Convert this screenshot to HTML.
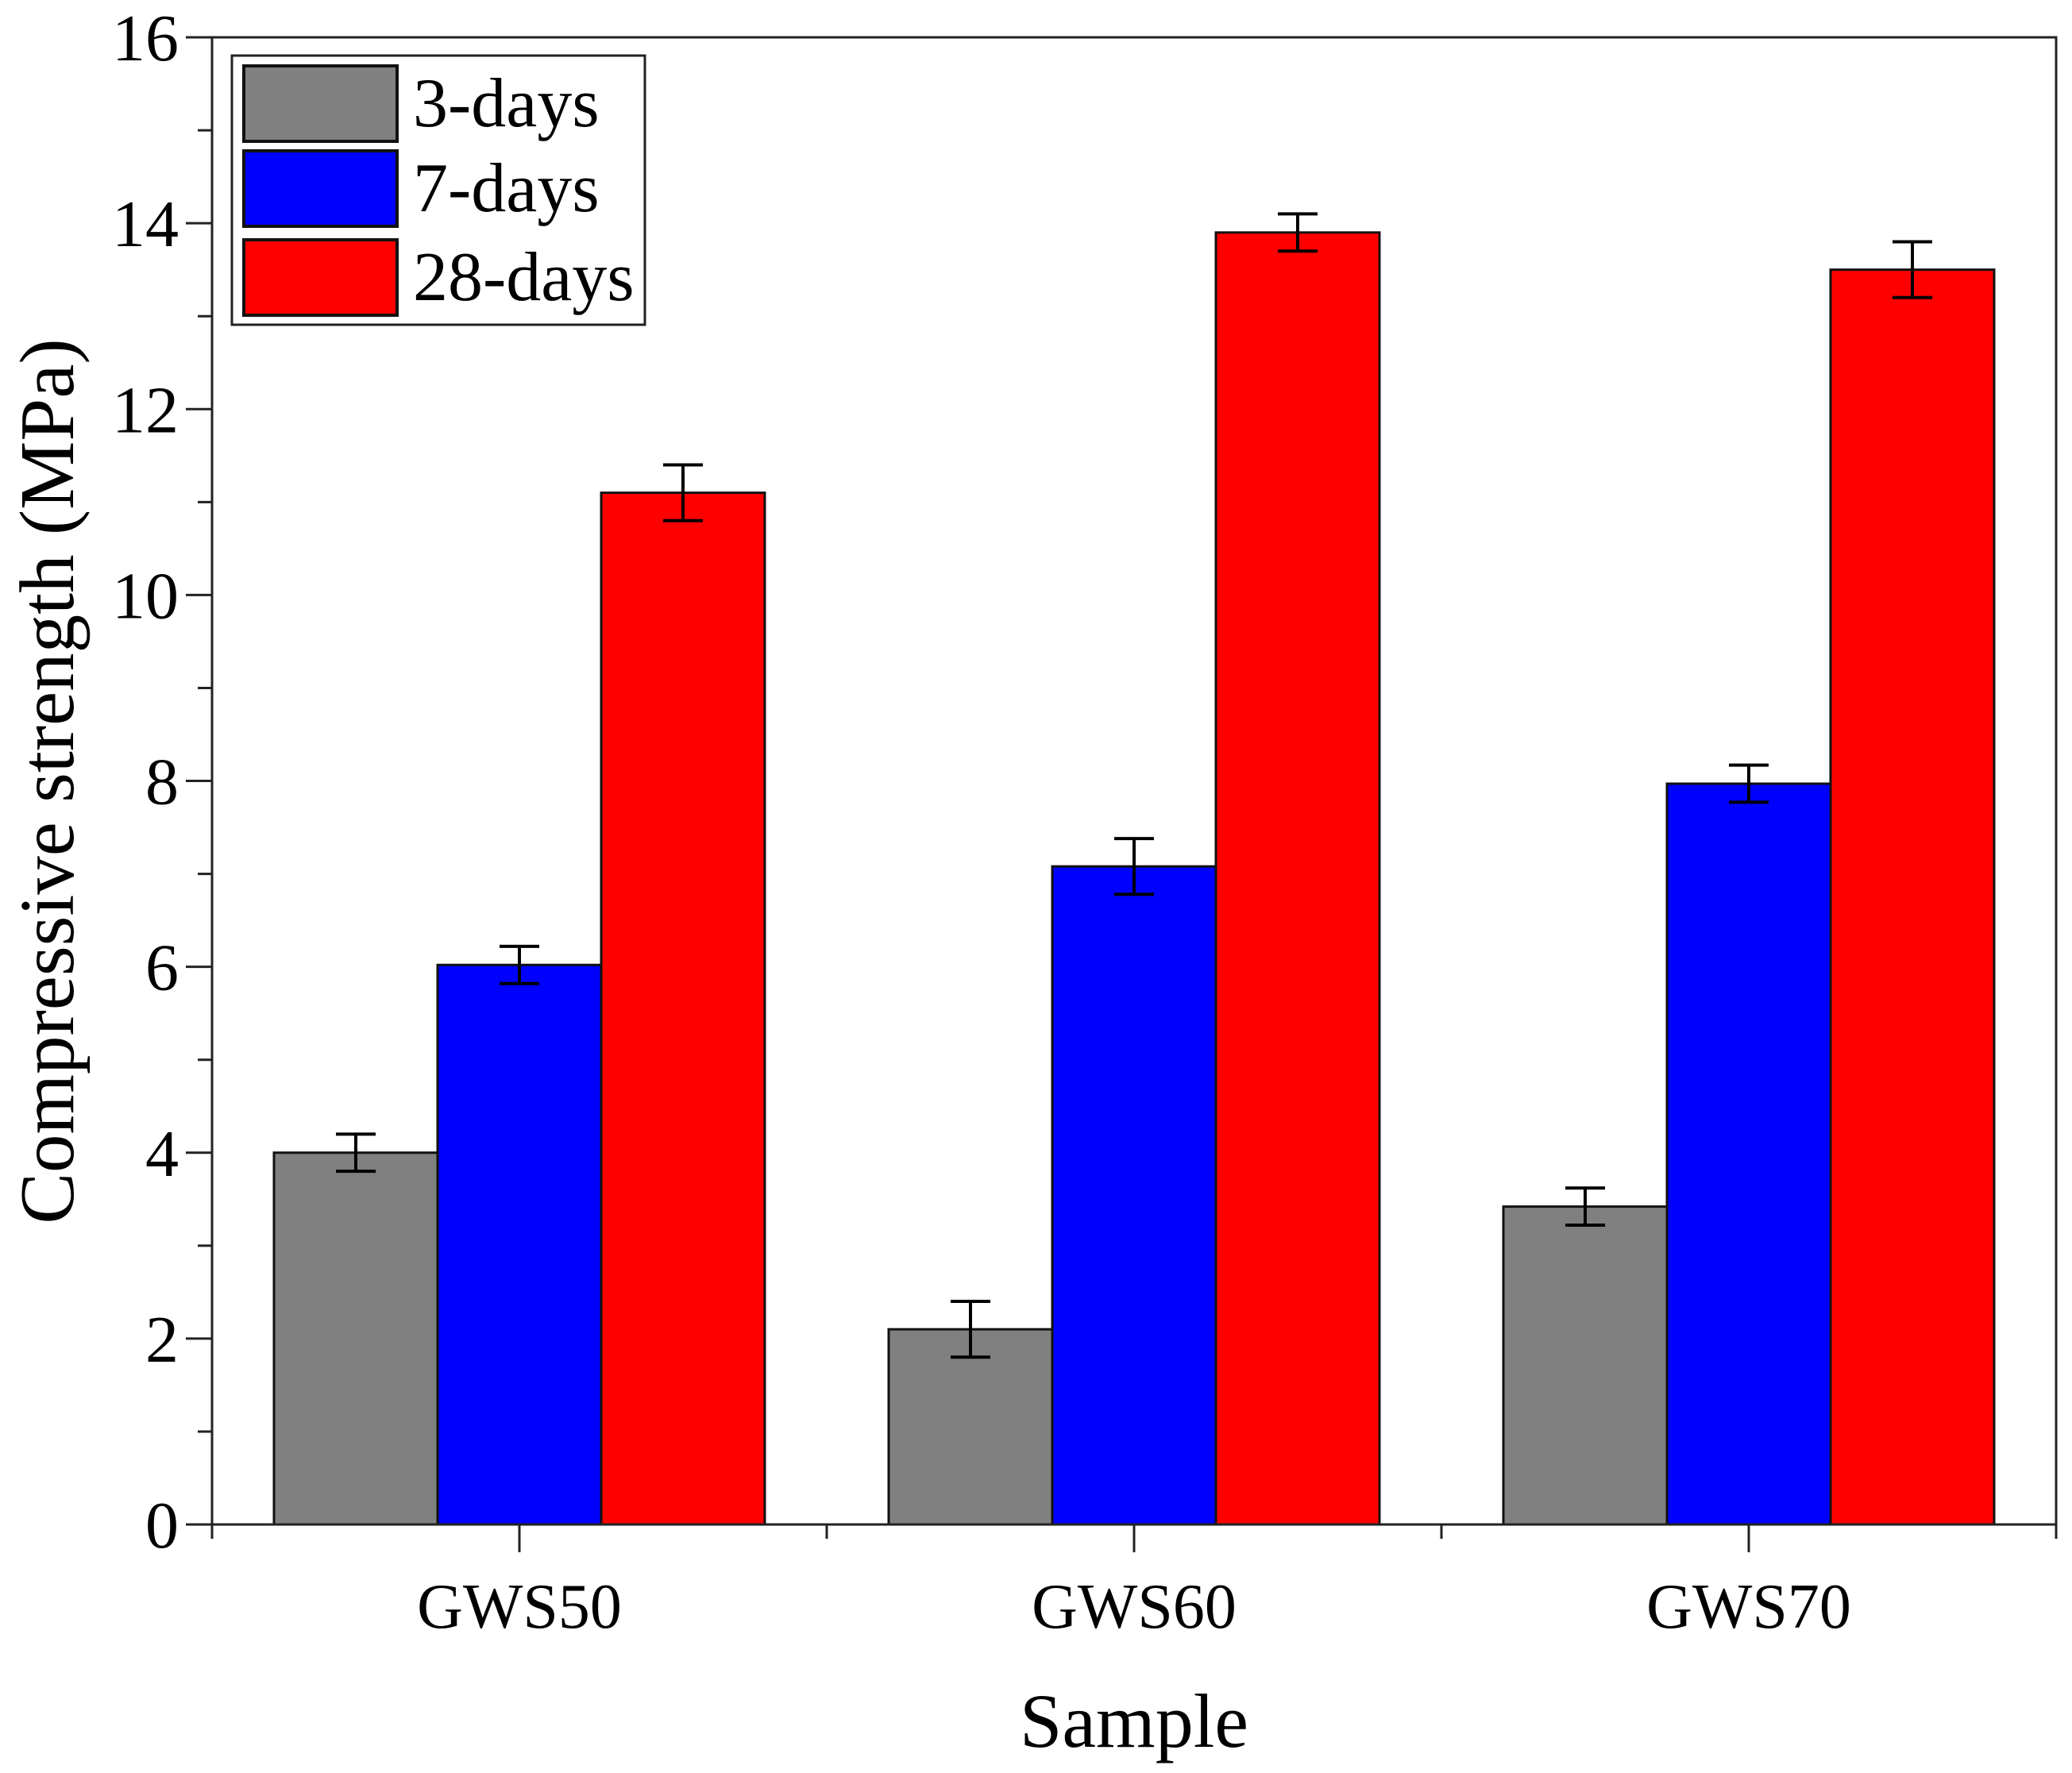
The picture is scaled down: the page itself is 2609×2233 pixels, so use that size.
<!DOCTYPE html>
<html><head><meta charset="utf-8"><style>
html,body{margin:0;padding:0;background:#fff;}
svg{display:block;font-family:"Liberation Serif",serif;}
</style></head><body>
<svg id="chart" width="2609" height="2233" viewBox="0 0 2609 2233" xmlns="http://www.w3.org/2000/svg">
<g id="plot"></g>
</svg>
<script>
const categories = ["GWS50", "GWS60", "GWS70"];
const seriesNames = ["3-days", "7-days", "28-days"];
const seriesColors = ["#808080", "#0000ff", "#ff0000"];
const values3d = [4.0, 2.1, 3.42];
const values7d = [6.02, 7.08, 7.97];
const values28d = [11.1, 13.9, 13.5];
const errors3d = [0.2, 0.3, 0.2];
const errors7d = [0.2, 0.3, 0.2];
const errors28d = [0.3, 0.2, 0.3];
const yTicks = [0, 2, 4, 6, 8, 10, 12, 14, 16];

const NS = "http://www.w3.org/2000/svg";
const g = document.getElementById("plot");
const L = 267, R = 2589, T = 47, B = 1920;
const yMin = 0, yMax = 16;
function yScale(v){ return B - (v - yMin) / (yMax - yMin) * (B - T); }
const catW = (R - L) / categories.length;
function xCenter(i){ return L + catW * (i + 0.5); }
const barW = 206;
function mk(tag, attrs, parent){
  const e = document.createElementNS(NS, tag);
  for (const k in attrs) e.setAttribute(k, attrs[k]);
  (parent || g).appendChild(e);
  return e;
}
const allVals = [values3d, values7d, values28d];
const allErrs = [errors3d, errors7d, errors28d];

for (let s = 0; s < 3; s++) {
  for (let i = 0; i < categories.length; i++) {
    const x = xCenter(i) + (s - 1.5) * barW;
    const y = yScale(allVals[s][i]);
    const r = mk("rect", {x: x, y: y, width: barW, height: B - y, fill: seriesColors[s], stroke: "#111", "stroke-width": 3});
    
    
  }
}
for (let s = 0; s < 3; s++) {
  for (let i = 0; i < categories.length; i++) {
    const cx = xCenter(i) + (s - 1) * barW;
    const v = allVals[s][i], e = allErrs[s][i];
    const eg = mk("g", {stroke: "#000", "stroke-width": 4, fill: "none"});
    
    
    mk("line", {x1: cx, x2: cx, y1: yScale(v + e), y2: yScale(v - e)}, eg);
    mk("line", {x1: cx - 25, x2: cx + 25, y1: yScale(v + e), y2: yScale(v + e)}, eg);
    mk("line", {x1: cx - 25, x2: cx + 25, y1: yScale(v - e), y2: yScale(v - e)}, eg);
  }
}
const frame = mk("rect", {x: L, y: T, width: R - L, height: B - T, fill: "none", stroke: "#222", "stroke-width": 3});



for (let k = 0; k < yTicks.length; k++) {
  const v = yTicks[k];
  const y = yScale(v);
  mk("line", {x1: L - 33, x2: L, y1: y, y2: y, stroke: "#222", "stroke-width": 3});
  const t = mk("text", {x: L - 42, y: y + 29, "text-anchor": "end", "font-size": 84, fill: "#000"});
  t.textContent = v;
  
  
  if (k < yTicks.length - 1) {
    const ym = yScale(v + 1);
    mk("line", {x1: L - 18, x2: L, y1: ym, y2: ym, stroke: "#222", "stroke-width": 3});
  }
}
for (let i = 0; i < categories.length; i++) {
  const x = xCenter(i);
  mk("line", {x1: x, x2: x, y1: B, y2: B + 35, stroke: "#222", "stroke-width": 3});
  const t = mk("text", {x: x, y: 2050, "text-anchor": "middle", "font-size": 80, fill: "#000"});
  t.textContent = categories[i];
  
  
}
for (let i = 0; i <= categories.length; i++) {
  const x = L + catW * i;
  mk("line", {x1: x, x2: x, y1: B, y2: B + 18, stroke: "#222", "stroke-width": 3});
}
const xt = mk("text", {x: xCenter(1), y: 2200, "text-anchor": "middle", "font-size": 96, fill: "#000"});
xt.textContent = "Sample";


const yt = mk("text", {x: 0, y: 0, "text-anchor": "middle", "font-size": 97, fill: "#000", transform: "translate(92,984) rotate(-90)"});
yt.textContent = "Compressive strength (MPa)";



const lg = mk("g", {});


mk("rect", {x: 292, y: 70, width: 520, height: 339, fill: "#fff", stroke: "#222", "stroke-width": 3}, lg);
const rowsY = [83, 190, 302];
for (let s = 0; s < 3; s++) {
  const e = mk("g", {}, lg);
  
  
  mk("rect", {x: 307, y: rowsY[s], width: 193, height: 95, fill: seriesColors[s], stroke: "#111", "stroke-width": 4}, e);
  const t = mk("text", {x: 520, y: rowsY[s] + 76, "font-size": 88, fill: "#000"}, e);
  t.textContent = seriesNames[s];
}
</script>
</body></html>
